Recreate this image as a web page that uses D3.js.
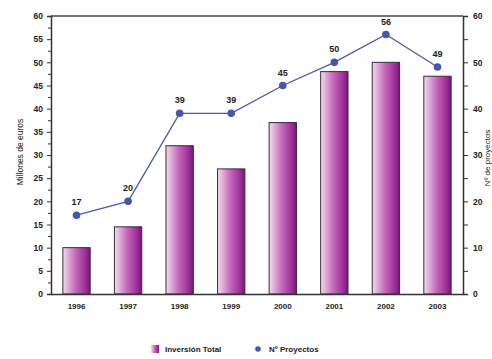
<!DOCTYPE html>
<html>
<head>
<meta charset="utf-8">
<script src="https://cdn.jsdelivr.net/npm/d3@7"></script>
<style>
  html, body { margin: 0; padding: 0; background: #fff; overflow: hidden; }
  svg { display: block; font-family: "Liberation Sans", Arial, sans-serif; }
</style>
</head>
<body>
<svg id="chart" width="492" height="359"></svg>
<script>
// Investment per year (million euros) and number of projects per year
const years = ["1996", "1997", "1998", "1999", "2000", "2001", "2002", "2003"];
const inversion = [10, 14.5, 32, 27, 37, 48, 50, 47];
const proyectos = [17, 20, 39, 39, 45, 50, 56, 49];
const leftTicks = [0, 5, 10, 15, 20, 25, 30, 35, 40, 45, 50, 55, 60];
const rightTicks = [0, 10, 20, 30, 40, 50, 60];

const svg = d3.select("#chart");
const m = { left: 51, right: 463, top: 16, bottom: 294 };

const x = d3.scaleBand().domain(years).range([m.left, m.right]).paddingInner(0.47).paddingOuter(0.23);
const yL = d3.scaleLinear().domain([0, 60]).range([m.bottom, m.top]);
const yR = d3.scaleLinear().domain([0, 60]).range([m.bottom, m.top]);

// Bar gradient: light pink on the left, deep magenta on the right
const defs = svg.append("defs");
const grad = defs.append("linearGradient").attr("id", "barGrad")
  .attr("x1", "0%").attr("x2", "100%").attr("y1", "0%").attr("y2", "0%");
grad.append("stop").attr("offset", "0%").attr("stop-color", "#f3dcef");
grad.append("stop").attr("offset", "45%").attr("stop-color", "#c76bbd");
grad.append("stop").attr("offset", "85%").attr("stop-color", "#9a2a96");
grad.append("stop").attr("offset", "100%").attr("stop-color", "#6e1a72");

// Bars
svg.append("g").selectAll("rect").data(years).join("rect")
  .attr("x", d => x(d))
  .attr("y", (d, i) => yL(inversion[i]))
  .attr("width", x.bandwidth())
  .attr("height", (d, i) => yL(0) - yL(inversion[i]))
  .attr("fill", "url(#barGrad)")
  .attr("stroke", "#3a2a3a")
  .attr("stroke-width", 1);

// Frame top
svg.append("line").attr("x1", m.left).attr("x2", m.right).attr("y1", m.top).attr("y2", m.top)
  .attr("stroke", "#444").attr("stroke-width", 1.5);

// Left axis: minor ticks every 2.5, labels every 5
svg.append("g").attr("transform", `translate(${m.left},0)`)
  .call(d3.axisLeft(yL).tickValues(d3.range(2.5, 60, 5)).tickSize(3).tickFormat(""))
  .call(g => g.select(".domain").remove())
  .selectAll(".tick line").attr("stroke", "#333");
const gL = svg.append("g").attr("transform", `translate(${m.left},0)`)
  .call(d3.axisLeft(yL).tickValues(leftTicks).tickSize(4).tickPadding(4));
// Right axis with minor ticks every 5
const gR = svg.append("g").attr("transform", `translate(${m.right},0)`)
  .call(d3.axisRight(yR).tickValues(d3.range(0, 61, 5)).tickSize(5).tickPadding(5)
    .tickFormat(d => rightTicks.includes(d) ? d : ""));
// Bottom axis
const gB = svg.append("g").attr("transform", `translate(0,${m.bottom})`)
  .call(d3.axisBottom(x).tickSize(0).tickPadding(9));

[gL, gR, gB].forEach(g => {
  g.select(".domain").attr("stroke", "#333").attr("stroke-width", 1.5);
  g.selectAll(".tick line").attr("stroke", "#333");
  g.selectAll("text").attr("fill", "#222").attr("font-size", 8.5).attr("font-weight", "bold")
    .attr("font-family", "'Liberation Sans', Arial, sans-serif");
});
gB.selectAll("text").attr("font-size", 8);

// Axis titles
svg.append("text").attr("transform", `translate(23,152) rotate(-90)`)
  .attr("text-anchor", "middle").attr("font-size", 8.5).attr("fill", "#222")
  .text("Millones de euros");
svg.append("text").attr("transform", `translate(490,158) rotate(-90)`)
  .attr("text-anchor", "middle").attr("font-size", 8).attr("fill", "#222")
  .text("Nº de proyectos");

// Project count line
const cx = d => x(d) + x.bandwidth() / 2;
const line = d3.line().x(d => cx(d)).y((d, i) => yR(proyectos[i]));
svg.append("path").datum(years).attr("d", line)
  .attr("fill", "none").attr("stroke", "#4a5aa8").attr("stroke-width", 1.3);
svg.append("g").selectAll("circle").data(years).join("circle")
  .attr("cx", d => cx(d)).attr("cy", (d, i) => yR(proyectos[i])).attr("r", 3.8)
  .attr("fill", "#4656aa");
svg.append("g").selectAll("text").data(years).join("text")
  .attr("x", d => cx(d)).attr("y", (d, i) => yR(proyectos[i]) - 10)
  .attr("text-anchor", "middle").attr("font-size", 9).attr("font-weight", "bold").attr("fill", "#222")
  .text((d, i) => proyectos[i]);

// Legend
const lg = svg.append("g");
lg.append("rect").attr("x", 151).attr("y", 345).attr("width", 8).attr("height", 8).attr("fill", "url(#barGrad)");
lg.append("text").attr("x", 165).attr("y", 352).attr("font-size", 8).attr("font-weight", "bold").attr("fill", "#222")
  .text("Inversión Total");
lg.append("circle").attr("cx", 258).attr("cy", 349).attr("r", 2.8).attr("fill", "#4656aa");
lg.append("text").attr("x", 269).attr("y", 352).attr("font-size", 8).attr("font-weight", "bold").attr("fill", "#222")
  .text("Nº Proyectos");
</script>
</body>
</html>
